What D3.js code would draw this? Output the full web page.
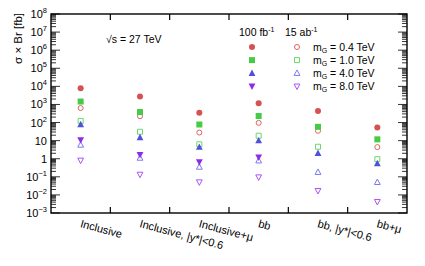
<!DOCTYPE html>
<html lang="en">
<head>
  <meta charset="UTF-8">
  <title>Graviton sensitivity, sqrt(s) = 27 TeV</title>
  <script src="https://d3js.org/d3.v7.min.js"></script>
  <style>
    body {
      margin: 0;
      background: #fff;
      font-family: 'Liberation Sans', Arial, sans-serif;
    }
    text { fill: #000; }
  </style>
</head>
<body>
<div class="chart"></div>

<script>
  // categories along the x axis
  const categories = ['Inclusive', 'Inclusive, |y*|<0.6', 'Inclusive+\u03bc', 'bb', 'bb, |y*|<0.6', 'bb+\u03bc'];

  // sigma x Br [fb], 100 fb^-1 (filled markers)
  const lumi100_m04 = [7800, 2760, 350, 1170, 433, 53];
  const lumi100_m10 = [1450, 380, 78, 230, 58, 11.8];
  const lumi100_m40 = [78, 15, 4.4, 10, 2.0, 0.54];
  const lumi100_m80 = [11, 1.66, 0.66, 1.23, null, null];

  // sigma x Br [fb], 15 ab^-1 (open markers)
  const lumi15_m04 = [630, 225, 28, 96, 35, 4.4];
  const lumi15_m10 = [123, 31, 6.3, 18.7, 4.6, 0.95];
  const lumi15_m40 = [5.8, 1.1, 0.35, 0.78, 0.18, 0.05];
  const lumi15_m80 = [0.81, 0.135, 0.051, 0.096, 0.017, 0.0042];

  const massLabels = ['0.4', '1.0', '4.0', '8.0'];
  const yDecades = [-3, -2, -1, 0, 1, 2, 3, 4, 5, 6, 7, 8];

  const series = [
    { shape: 'circle', color: '#d65252', filled: lumi100_m04, open: lumi15_m04 },
    { shape: 'square', color: '#44cc44', filled: lumi100_m10, open: lumi15_m10 },
    { shape: 'up',     color: '#5050dd', filled: lumi100_m40, open: lumi15_m40 },
    { shape: 'down',   color: '#8f2ae8', filled: lumi100_m80, open: lumi15_m80 }
  ];
  const openColors = ['#e06464', '#6ad86a', '#7a7aee', '#a955f5'];

  const W = 425, H = 266;
  const margin = { top: 14, right: 18, bottom: 53, left: 51 };

  const x = d3.scaleLinear().domain([0, categories.length]).range([margin.left, W - margin.right]);
  const y = d3.scaleLog().domain([1e-3, 1e8]).range([H - margin.bottom, margin.top]);

  const svg = d3.select('.chart').append('svg')
    .attr('width', W)
    .attr('height', H);

  function markerPath(shape, s) {
    if (shape === 'circle') return d3.symbol(d3.symbolCircle, s * s * 0.8)();
    if (shape === 'square') return `M${-s / 2},${-s / 2}h${s}v${s}h${-s}Z`;
    const h = s * 0.9;
    if (shape === 'up') return `M0,${-h / 2 - 1}L${s / 2 + 0.4},${h / 2}L${-s / 2 - 0.4},${h / 2}Z`;
    return `M0,${h / 2 + 1}L${s / 2 + 0.4},${-h / 2}L${-s / 2 - 0.4},${-h / 2}Z`;
  }

  // frame
  svg.append('rect')
    .attr('x', x(0)).attr('y', y(1e8))
    .attr('width', x(6) - x(0)).attr('height', y(1e-3) - y(1e8))
    .attr('fill', 'none').attr('stroke', '#000').attr('stroke-width', 1.4);

  // y ticks, left and right, pointing inward
  const ticks = svg.append('g').attr('stroke', '#000').attr('stroke-width', 0.8);
  yDecades.forEach(k => {
    for (let m = 1; m <= 9; m++) {
      const v = m * Math.pow(10, k);
      if (v > 1e8) break;
      const len = m === 1 ? 9 : 5;
      ticks.append('line')
        .attr('x1', x(0)).attr('x2', x(0) + len)
        .attr('y1', y(v)).attr('y2', y(v));
      ticks.append('line')
        .attr('x1', x(6)).attr('x2', x(6) - len)
        .attr('y1', y(v)).attr('y2', y(v));
    }
  });

  // x ticks at bin edges, top and bottom
  d3.range(1, categories.length).forEach(i => {
    ticks.append('line').attr('x1', x(i)).attr('x2', x(i))
      .attr('y1', y(1e-3)).attr('y2', y(1e-3) - 6).attr('stroke-width', 1.2);
    ticks.append('line').attr('x1', x(i)).attr('x2', x(i))
      .attr('y1', y(1e8)).attr('y2', y(1e8) + 6).attr('stroke-width', 1.2);
  });

  // y tick labels
  yDecades.forEach(k => {
    const t = svg.append('text')
      .attr('x', x(0) - 4)
      .attr('y', y(Math.pow(10, k)) + 4)
      .attr('text-anchor', 'end')
      .style('font-size', '11px');
    if (k === 0) t.text('1');
    else if (k === 1) t.text('10');
    else {
      t.append('tspan').text('10');
      t.append('tspan').attr('dy', -5).style('font-size', '7.5px')
        .text(k < 0 ? '\u2212' + (-k) : k);
    }
  });

  // y axis title
  svg.append('text')
    .attr('transform', `translate(22,${margin.top - 1}) rotate(-90)`)
    .attr('text-anchor', 'end')
    .style('font-size', '11.5px')
    .text('\u03c3 \u00d7 Br [fb]');

  // category labels
  categories.forEach((c, i) => {
    svg.append('text')
      .attr('transform', `translate(${x(i + 0.5) - 1},${y(1e-3) + 14}) rotate(15)`)
      .style('font-size', '11px')
      .text(c);
  });

  // markers
  const S = 6;
  series.forEach((s, si) => {
    const g = svg.append('g');
    const openPts = s.open.map((v, i) => ({ v, i })).filter(d => d.v != null);
    const fillPts = s.filled.map((v, i) => ({ v, i })).filter(d => d.v != null);
    g.selectAll('.open').data(openPts).enter().append('path')
      .attr('transform', d => `translate(${x(d.i + 0.5)},${y(d.v)})`)
      .attr('d', markerPath(s.shape, S - 1))
      .attr('fill', 'none')
      .attr('stroke', openColors[si])
      .attr('stroke-width', 1);
    g.selectAll('.filled').data(fillPts).enter().append('path')
      .attr('transform', d => `translate(${x(d.i + 0.5)},${y(d.v)})`)
      .attr('d', markerPath(s.shape, S))
      .attr('fill', s.color);
  });

  // sqrt(s) label
  svg.append('text')
    .attr('x', 106).attr('y', 43)
    .style('font-size', '10.5px')
    .text('\u221as = 27 TeV');

  // legend
  const lxFilled = 252, lxOpen = 297, lxText = 313;
  const head1 = svg.append('text').attr('x', 239).attr('y', 36).style('font-size', '10.5px');
  head1.append('tspan').text('100 fb');
  head1.append('tspan').attr('dy', -4).style('font-size', '7px').text('-1');
  const head2 = svg.append('text').attr('x', 285).attr('y', 36).style('font-size', '10.5px');
  head2.append('tspan').text('15 ab');
  head2.append('tspan').attr('dy', -4).style('font-size', '7px').text('-1');

  series.forEach((s, si) => {
    const ly = 47 + si * 13.1;
    svg.append('path')
      .attr('transform', `translate(${lxFilled},${ly})`)
      .attr('d', markerPath(s.shape, S))
      .attr('fill', s.color);
    svg.append('path')
      .attr('transform', `translate(${lxOpen},${ly})`)
      .attr('d', markerPath(s.shape, S - 1))
      .attr('fill', 'none')
      .attr('stroke', openColors[si]);
    const t = svg.append('text').attr('x', lxText).attr('y', ly + 3.5).style('font-size', '10.5px');
    t.append('tspan').text('m');
    t.append('tspan').attr('dy', 2.5).style('font-size', '7px').text('G');
    t.append('tspan').attr('dy', -2.5).text(` = ${massLabels[si]} TeV`);
  });
</script>
</body>
</html>
